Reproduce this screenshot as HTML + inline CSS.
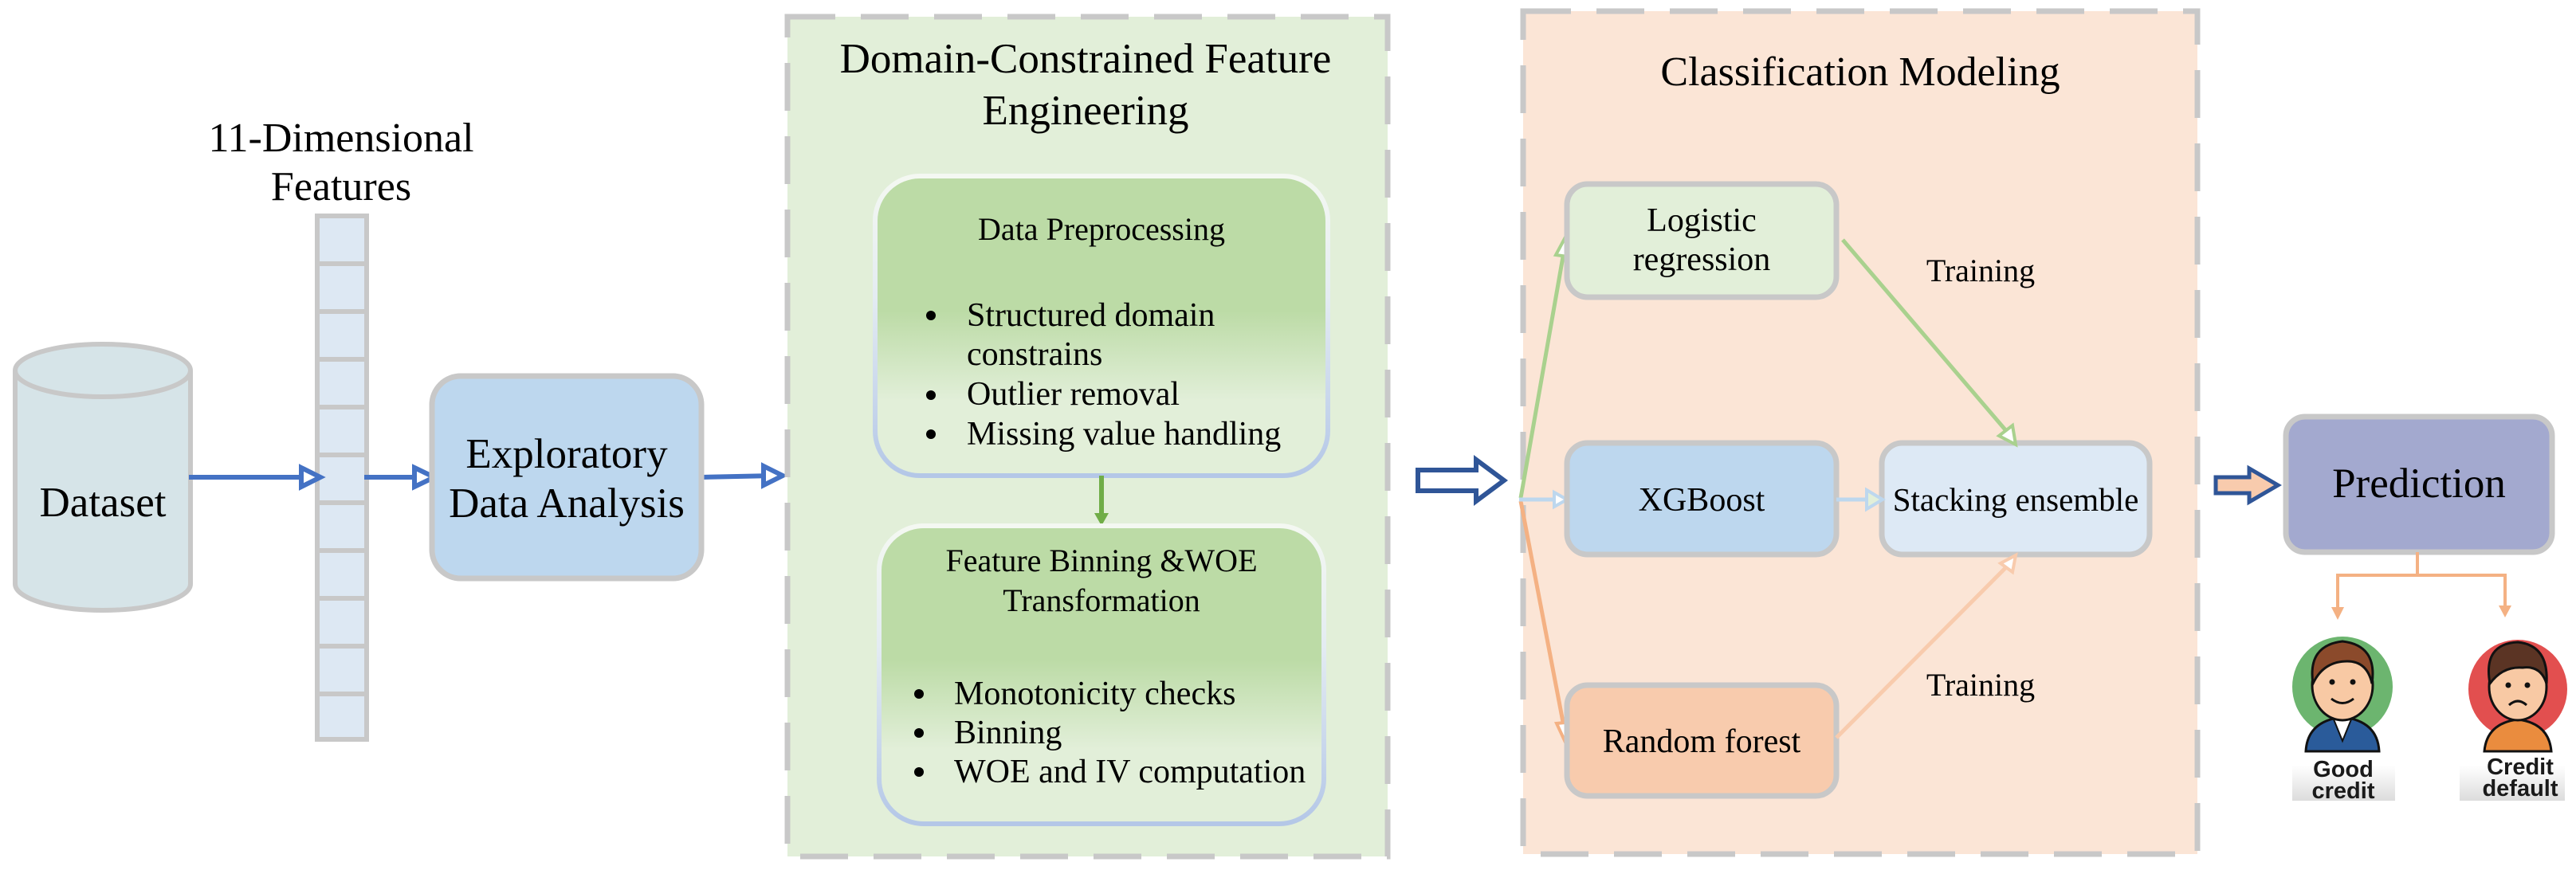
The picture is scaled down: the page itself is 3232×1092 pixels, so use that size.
<!DOCTYPE html>
<html><head><meta charset="utf-8"><style>
html,body{margin:0;padding:0;background:#fff;}
svg{display:block;}
svg text{font-family:"Liberation Serif","Times New Roman",serif !important;fill:#000;}
svg text.s{font-family:"Liberation Sans",Arial,sans-serif !important;font-weight:bold;fill:#1a1a1a;}
</style></head><body>
<svg width="3232" height="1092" viewBox="0 0 3232 1092" xmlns="http://www.w3.org/2000/svg" font-family="Liberation Serif, serif">
<defs>
<linearGradient id="gb" x1="0" y1="0" x2="0" y2="1">
<stop offset="0" stop-color="#bcdba6"/><stop offset="0.45" stop-color="#bcdba6"/><stop offset="0.75" stop-color="#e2efd9"/><stop offset="1" stop-color="#e2efd9"/></linearGradient>
<linearGradient id="gbs" x1="0" y1="0" x2="0" y2="1">
<stop offset="0" stop-color="#f4f8f2"/><stop offset="0.4" stop-color="#e4ecf2"/><stop offset="1" stop-color="#b4c7e7"/></linearGradient>
<linearGradient id="lb" x1="0" y1="0" x2="0" y2="1"><stop offset="0" stop-color="#fff"/><stop offset="0.8" stop-color="#fff"/><stop offset="1" stop-color="#dcdcdc"/></linearGradient>
</defs>

<g font-family="Liberation Serif, serif">
<text x="428" y="190" font-size="52" text-anchor="middle">11-Dimensional</text>
<text x="428" y="251" font-size="52" text-anchor="middle">Features</text>
</g>

<path d="M19 465 L19 733 A110 33 0 0 0 239 733 L239 465" fill="#d6e4e8" stroke="#c8c8c8" stroke-width="6"/>
<ellipse cx="129" cy="465" rx="110" ry="33" fill="#d6e4e8" stroke="#c8c8c8" stroke-width="6"/>
<text x="129" y="648" font-size="53" text-anchor="middle" font-family="Liberation Serif, serif">Dataset</text>

<g fill="#dde8f3" stroke="#c8c8c8" stroke-width="6">
<rect x="398" y="271" width="62" height="60"/><rect x="398" y="331" width="62" height="60"/><rect x="398" y="391" width="62" height="60"/><rect x="398" y="451" width="62" height="60"/><rect x="398" y="511" width="62" height="60"/><rect x="398" y="571" width="62" height="60"/><rect x="398" y="631" width="62" height="60"/><rect x="398" y="691" width="62" height="60"/><rect x="398" y="751" width="62" height="60"/><rect x="398" y="811" width="62" height="60"/><rect x="398" y="871" width="62" height="57"/>
</g>

<g stroke="#4472c4" stroke-width="6" fill="none">
<line x1="237" y1="599" x2="392" y2="599"/>
<path d="M378 587 L402 599 L378 611 Z" fill="#fff"/>
<line x1="457" y1="599" x2="532" y2="599"/>
<path d="M520 587 L545 599 L520 611 Z" fill="#fff"/>
<line x1="880" y1="599" x2="972" y2="597"/>
<path d="M958 585 L982 597 L958 609 Z" fill="#fff"/>
</g>

<rect x="542" y="472" width="338" height="254" rx="36" fill="#bdd7ee" stroke="#c8c8c8" stroke-width="7"/>
<g font-family="Liberation Serif, serif" font-size="53" text-anchor="middle">
<text x="711" y="587">Exploratory</text>
<text x="711" y="649">Data Analysis</text>
</g>

<rect x="988" y="21" width="753" height="1054" fill="#e2efd9" stroke="#c8c8c8" stroke-width="7" stroke-dasharray="60 32"/>
<g font-family="Liberation Serif, serif" font-size="53" text-anchor="middle">
<text x="1362" y="91">Domain-Constrained Feature</text>
<text x="1362" y="156">Engineering</text>
</g>

<rect x="1098" y="221" width="568" height="376" rx="56" fill="url(#gb)" stroke="url(#gbs)" stroke-width="6"/>
<g font-family="Liberation Serif, serif">
<text x="1382" y="301" font-size="40" text-anchor="middle">Data Preprocessing</text>
<g font-size="42">
<circle cx="1168" cy="396" r="6"/><text x="1213" y="409">Structured domain</text>
<text x="1213" y="458">constrains</text>
<circle cx="1168" cy="496" r="6"/><text x="1213" y="508">Outlier removal</text>
<circle cx="1168" cy="545" r="6"/><text x="1213" y="558">Missing value handling</text>
</g>
</g>

<line x1="1382" y1="597" x2="1382" y2="648" stroke="#70ad47" stroke-width="6"/>
<path d="M1373 644 L1382 660 L1391 644 Z" fill="#70ad47"/>

<rect x="1103" y="660" width="558" height="374" rx="56" fill="url(#gb)" stroke="url(#gbs)" stroke-width="6"/>
<g font-family="Liberation Serif, serif">
<text x="1382" y="717" font-size="40" text-anchor="middle">Feature Binning &amp;WOE</text>
<text x="1382" y="767" font-size="40" text-anchor="middle">Transformation</text>
<g font-size="42">
<circle cx="1153" cy="871" r="6"/><text x="1197" y="884">Monotonicity checks</text>
<circle cx="1153" cy="920" r="6"/><text x="1197" y="933">Binning</text>
<circle cx="1153" cy="969" r="6"/><text x="1197" y="982">WOE and IV computation</text>
</g>
</g>

<path d="M1779 590 L1852 590 L1852 577 L1887 603 L1852 629 L1852 616 L1779 616 Z" fill="#fff" stroke="#2f5597" stroke-width="6"/>

<rect x="1911" y="14" width="846" height="1058" fill="#fbe5d6" stroke="#c8c8c8" stroke-width="7" stroke-dasharray="60 32"/>
<text x="2334" y="107" font-size="52" text-anchor="middle" font-family="Liberation Serif, serif">Classification Modeling</text>

<line x1="1908" y1="625" x2="1964" y2="305" stroke="#a9d18e" stroke-width="5"/>
<path d="M1952 320 L1966 294 L1974 323 Z" fill="#fff" stroke="#a9d18e" stroke-width="4"/>
<line x1="1908" y1="629" x2="1964" y2="922" stroke="#f4b183" stroke-width="5"/>
<path d="M1953 908 L1966 936 L1974 906 Z" fill="#fff" stroke="#f4b183" stroke-width="4"/>
<line x1="1906" y1="627" x2="1955" y2="627" stroke="#bdd7ee" stroke-width="5"/>
<path d="M1950 618 L1966 627 L1950 636 Z" fill="#fff" stroke="#bdd7ee" stroke-width="4"/>

<rect x="1966" y="231" width="338" height="142" rx="26" fill="#e2efd9" stroke="#c8c8c8" stroke-width="7"/>
<rect x="1966" y="556" width="338" height="140" rx="26" fill="#bdd7ee" stroke="#c8c8c8" stroke-width="7"/>
<rect x="2361" y="556" width="336" height="140" rx="26" fill="#dde9f5" stroke="#c8c8c8" stroke-width="7"/>
<rect x="1966" y="860" width="338" height="139" rx="26" fill="#f8cbad" stroke="#c8c8c8" stroke-width="7"/>
<g font-family="Liberation Serif, serif" font-size="42" text-anchor="middle">
<text x="2135" y="290">Logistic</text>
<text x="2135" y="339">regression</text>
<text x="2135" y="641">XGBoost</text>
<text x="2529" y="641" font-size="41">Stacking ensemble</text>
<text x="2135" y="944">Random forest</text>
<text x="2485" y="353" font-size="40">Training</text>
<text x="2485" y="873" font-size="40">Training</text>
</g>

<line x1="2304" y1="627" x2="2350" y2="627" stroke="#bdd7ee" stroke-width="5"/>
<path d="M2342 615 L2362 627 L2342 639 Z" fill="#e2efd9" stroke="#bdd7ee" stroke-width="4"/>

<line x1="2312" y1="301" x2="2525" y2="550" stroke="#a9d18e" stroke-width="5"/>
<path d="M2508 547 L2529 558 L2525 534 Z" fill="#fff" stroke="#a9d18e" stroke-width="4"/>
<line x1="2304" y1="926" x2="2525" y2="704" stroke="#f8cbad" stroke-width="5"/>
<path d="M2510 707 L2529 697 L2525 718 Z" fill="#fff" stroke="#f8cbad" stroke-width="4"/>

<path d="M2780 599 L2822 599 L2822 588 L2858 609 L2822 630 L2822 619 L2780 619 Z" fill="#f8cbad" stroke="#2f5597" stroke-width="5"/>

<rect x="2868" y="523" width="334" height="170" rx="24" fill="#a3a9cf" stroke="#c8c8c8" stroke-width="7"/>
<text x="3035" y="624" font-size="53" text-anchor="middle" font-family="Liberation Serif, serif">Prediction</text>

<path d="M3033 693 L3033 722 M2933 766 L2933 722 L3143 722 L3143 764" stroke="#f4b183" stroke-width="4" fill="none"/>
<path d="M2925 762 L2933 778 L2941 762 Z" fill="#f4b183"/>
<path d="M3135 760 L3143 775 L3151 760 Z" fill="#f4b183"/>

<rect x="2876" y="783" width="129" height="222" fill="url(#lb)"/>
<circle cx="2939" cy="862" r="63" fill="#6cb56f"/>
<path d="M2893 943 Q2895 905 2939 900 Q2983 905 2985 943 Z" fill="#2a5b9a" stroke="#111" stroke-width="3"/>
<path d="M2928 903 L2939 930 L2950 903 Z" fill="#fff" stroke="#111" stroke-width="2"/>
<ellipse cx="2939" cy="860" rx="38" ry="44" fill="#f8c9a4" stroke="#111" stroke-width="3"/>
<path d="M2902 858 Q2895 810 2939 805 Q2983 810 2976 858 Q2970 830 2945 830 Q2915 830 2902 858 Z" fill="#8b4a2b" stroke="#111" stroke-width="3"/>
<circle cx="2926" cy="856" r="3.5" fill="#111"/><circle cx="2952" cy="856" r="3.5" fill="#111"/>
<path d="M2925 877 Q2939 888 2953 877" fill="none" stroke="#111" stroke-width="3"/>
<text x="2940" y="975" class="s" font-size="29" text-anchor="middle" font-family="Liberation Sans, sans-serif">Good</text>
<text x="2940" y="1002" class="s" font-size="29" text-anchor="middle" font-family="Liberation Sans, sans-serif">credit</text>

<rect x="3086" y="783" width="132" height="222" fill="url(#lb)"/>
<circle cx="3159" cy="865" r="62" fill="#e24f4f"/>
<path d="M3117 943 Q3120 908 3159 903 Q3198 908 3201 943 Z" fill="#ea8c3e" stroke="#111" stroke-width="3"/>
<ellipse cx="3159" cy="862" rx="36" ry="42" fill="#f8c9a4" stroke="#111" stroke-width="3"/>
<path d="M3124 858 Q3115 808 3159 806 Q3198 810 3195 858 Q3188 835 3165 838 Q3140 836 3124 858 Z" fill="#5b3424" stroke="#111" stroke-width="3"/>
<circle cx="3147" cy="860" r="3.5" fill="#111"/><circle cx="3171" cy="860" r="3.5" fill="#111"/>
<path d="M3148 885 Q3159 875 3170 885" fill="none" stroke="#111" stroke-width="3"/>
<text x="3162" y="972" class="s" font-size="29" text-anchor="middle" font-family="Liberation Sans, sans-serif">Credit</text>
<text x="3162" y="999" class="s" font-size="29" text-anchor="middle" font-family="Liberation Sans, sans-serif">default</text>
</svg>
</body></html>
